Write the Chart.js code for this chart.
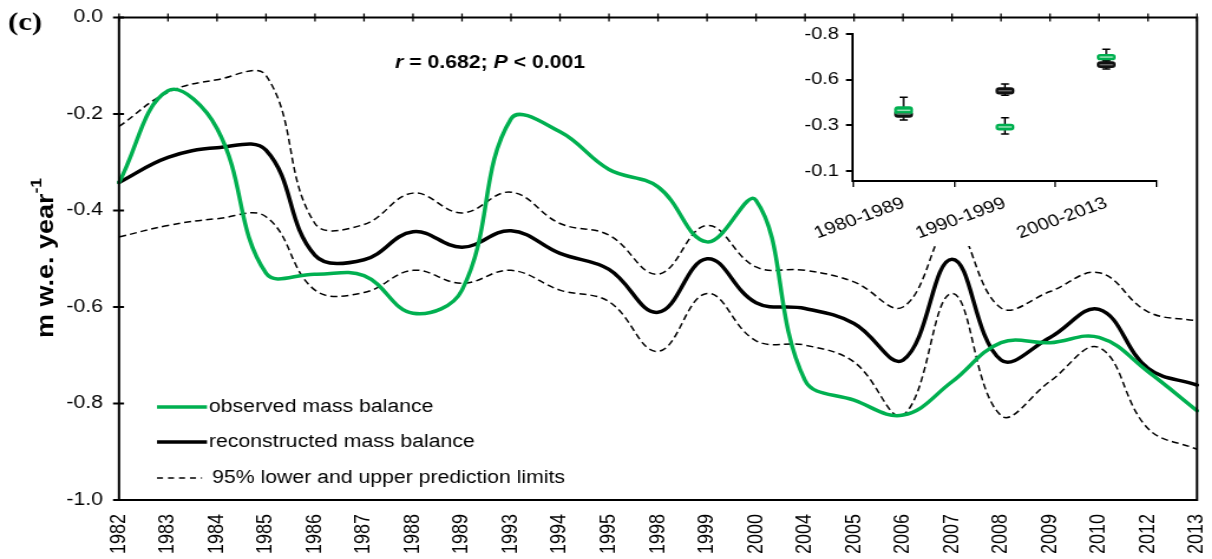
<!DOCTYPE html>
<html>
<head>
<meta charset="utf-8">
<script src="https://cdn.jsdelivr.net/npm/chart.js@4.4.0/dist/chart.umd.min.js"></script>
<style>
  html, body { margin: 0; padding: 0; background: #fff; }
  #wrap { position: relative; width: 1212px; height: 559px; overflow: hidden; background: #fff; }
  canvas { position: absolute; }
</style>
</head>
<body>
<div id="wrap">
  <canvas id="main" width="1027" height="559" style="left:0px;top:0px;width:1212px;height:559px;"></canvas>
  <canvas id="inset" width="339" height="224" style="left:790px;top:22px;width:400px;height:224px;"></canvas>
</div>
<script>
// Annual mass balance series (m w.e. per year)
const years = ['1982','1983','1984','1985','1986','1987','1988','1989','1993','1994','1995','1998',
               '1999','2000','2004','2005','2006','2007','2008','2009','2010','2012','2013'];
const observed = [-0.342,-0.152,-0.230,-0.530,-0.532,-0.535,-0.613,-0.565,-0.210,-0.237,-0.315,-0.351,
                  -0.465,-0.379,-0.752,-0.793,-0.824,-0.755,-0.674,-0.674,-0.663,-0.734,-0.815];
const reconstructed = [-0.342,-0.290,-0.270,-0.275,-0.493,-0.502,-0.444,-0.476,-0.442,-0.489,-0.522,-0.611,
                       -0.500,-0.591,-0.603,-0.634,-0.710,-0.501,-0.710,-0.663,-0.605,-0.727,-0.762];
const upperLimit = [-0.226,-0.155,-0.129,-0.120,-0.427,-0.429,-0.364,-0.405,-0.362,-0.427,-0.451,-0.532,
                    -0.431,-0.517,-0.524,-0.548,-0.600,-0.430,-0.602,-0.568,-0.529,-0.610,-0.629];
const lowerLimit = [-0.455,-0.431,-0.417,-0.413,-0.565,-0.570,-0.524,-0.551,-0.524,-0.565,-0.589,-0.692,
                    -0.572,-0.670,-0.679,-0.714,-0.824,-0.572,-0.825,-0.754,-0.684,-0.852,-0.895];
const yTickValues = [0, -0.2, -0.4, -0.6, -0.8, -1.0];

// Decadal box summaries for the inset
const decades = ['1980-1989', '1990-1999', '2000-2013'];
const obsBox = [[-0.429, -0.391], [-0.340, -0.309], [-0.696, -0.667]];
const obsMedian = [-0.410, -0.325, -0.682];
const obsWhisker = [[-0.477, -0.380], [-0.372, -0.289], [-0.722, -0.662]];
const recBox = [[-0.407, -0.374], [-0.526, -0.493], [-0.659, -0.628]];
const recMedian = [-0.391, -0.510, -0.643];
const recWhisker = [[-0.415, -0.361], [-0.545, -0.487], [-0.664, -0.621]];
const insetTickValues = [-0.8, -0.5667, -0.3333, -0.1];
const insetTickLabels = ['-0.8', '-0.6', '-0.3', '-0.1'];

// The canvases are drawn narrower and widened by CSS, giving the wide lettering
const SX = 1212 / 1027;
const cx = v => v / SX;
const GREEN = '#00b050';
const SANS = "'Liberation Sans', Arial, sans-serif";

// keep the plot area exactly where the layout padding puts it
function noScalePadding(s) {
  s.paddingLeft = 0; s.paddingRight = 0; s.paddingTop = 0; s.paddingBottom = 0;
}

const framePlugin = {
  id: 'frame',
  afterDatasetsDraw(chart) {
    const { ctx, chartArea: a, scales } = chart;
    ctx.save();
    ctx.strokeStyle = '#000';
    ctx.lineWidth = 2;
    ctx.strokeRect(a.left, a.top, a.right - a.left, a.bottom - a.top);
    // horizontal axis crosses at 0.0 (top edge) with cross tick marks
    ctx.lineWidth = 1.3;
    years.forEach((_, i) => {
      const x = scales.x.getPixelForValue(i);
      ctx.beginPath();
      ctx.moveTo(x, a.top - 4);
      ctx.lineTo(x, a.top + 4);
      ctx.stroke();
    });
    ctx.lineWidth = 2;
    yTickValues.forEach(v => {
      const y = scales.y.getPixelForValue(v);
      ctx.beginPath();
      ctx.moveTo(a.left - cx(6), y);
      ctx.lineTo(a.left + cx(5), y);
      ctx.stroke();
    });
    ctx.restore();
  }
};

const notesPlugin = {
  id: 'notes',
  afterDraw(chart) {
    const { ctx } = chart;
    const ds = chart.data.datasets;
    ctx.save();
    ctx.fillStyle = '#000';
    ctx.textBaseline = 'middle';

    // panel letter
    ctx.font = "bold 26px 'Liberation Serif', 'Times New Roman', serif";
    ctx.textAlign = 'left';
    ctx.fillText('(c)', cx(8), 23);

    // axis title with superscript, lettering drawn long along the axis
    ctx.save();
    ctx.translate(cx(47), 258);
    ctx.rotate(-Math.PI / 2);
    ctx.scale(1.35, 1);
    const big = 'bold 20px ' + SANS, small = 'bold 13px ' + SANS;
    const main = 'm w.e. year';
    ctx.font = big;
    const w1 = ctx.measureText(main).width;
    ctx.font = small;
    const w2 = ctx.measureText('-1').width;
    const start = -(w1 + w2) / 2;
    ctx.font = big;
    ctx.fillText(main, start, 0);
    ctx.font = small;
    ctx.fillText('-1', start + w1, -8);
    ctx.restore();

    // correlation statement
    const parts = [
      ['r', 'italic bold'], [' = 0.682; ', 'bold'], ['P', 'italic bold'], [' < 0.001', 'bold']
    ];
    let x = cx(395);
    parts.forEach(([t, st]) => {
      ctx.font = st + ' 18px ' + SANS;
      ctx.fillText(t, x, 63);
      x += ctx.measureText(t).width;
    });

    // legend
    const rows = [
      { y: 407, ds: ds[0], textX: cx(209) },
      { y: 442, ds: ds[1], textX: cx(209) },
      { y: 478, ds: ds[2], textX: cx(212) }
    ];
    ctx.font = '18px ' + SANS;
    rows.forEach(r => {
      ctx.save();
      ctx.strokeStyle = r.ds.borderColor;
      ctx.lineWidth = r.ds.borderWidth;
      if (r.ds.borderDash) ctx.setLineDash([cx(6), cx(5)]);
      ctx.beginPath();
      ctx.moveTo(cx(157), r.y);
      ctx.lineTo(r.ds.borderDash ? cx(202) : cx(207), r.y);
      ctx.stroke();
      ctx.restore();
      ctx.fillText(r.ds.label, r.textX, r.y);
    });
    ctx.restore();
  }
};

const lineBase = { pointRadius: 0, tension: 0.4, fill: false, borderCapStyle: 'round' };

new Chart(document.getElementById('main'), {
  type: 'line',
  data: {
    labels: years,
    datasets: [
      Object.assign({ label: 'observed mass balance', data: observed, borderColor: GREEN, borderWidth: 3.5 }, lineBase),
      Object.assign({ label: 'reconstructed mass balance', data: reconstructed, borderColor: '#000', borderWidth: 3.5 }, lineBase),
      Object.assign({ label: '95% lower and upper prediction limits', data: upperLimit, borderColor: '#000', borderWidth: 1.5, borderDash: [6, 3.5] }, lineBase, { borderCapStyle: 'butt' }),
      Object.assign({ label: '95% lower prediction limit', data: lowerLimit, borderColor: '#000', borderWidth: 1.5, borderDash: [6, 3.5] }, lineBase, { borderCapStyle: 'butt' })
    ]
  },
  options: {
    responsive: false,
    animation: false,
    devicePixelRatio: 1,
    layout: { padding: { top: 17.5, right: 1027 - cx(1197), left: 0, bottom: 0 } },
    plugins: { legend: { display: false }, tooltip: { enabled: false } },
    scales: {
      x: {
        type: 'category',
        offset: false,
        grid: { display: false, drawTicks: false },
        border: { display: false },
        ticks: { autoSkip: false, minRotation: 90, maxRotation: 90, padding: 14, color: '#000',
                 font: { family: SANS, size: 18 } },
        afterFit(s) { s.height = 59; noScalePadding(s); }
      },
      y: {
        min: -1, max: 0,
        grid: { display: false, drawTicks: false },
        border: { display: false },
        afterBuildTicks(s) { s.ticks = yTickValues.map(v => ({ value: v })); },
        ticks: { padding: cx(16), color: '#000', font: { family: SANS, size: 18 },
                 callback: v => Number(v).toFixed(1) },
        afterFit(s) { s.width = cx(119); noScalePadding(s); }
      }
    }
  },
  plugins: [framePlugin, notesPlugin]
});

// Inset: decadal boxes
const insetBg = {
  id: 'insetBg',
  beforeDraw(chart) {
    const { ctx } = chart;
    ctx.save();
    ctx.fillStyle = '#fff';
    ctx.fillRect(0, 0, chart.width, chart.height);
    ctx.restore();
  }
};

const boxParts = {
  id: 'boxParts',
  beforeDatasetsDraw(chart) {
    const { ctx, scales } = chart;
    ctx.save();
    ctx.strokeStyle = '#000';
    ctx.lineWidth = 1.5;
    chart.data.datasets.forEach((ds, di) => {
      chart.getDatasetMeta(di).data.forEach((bar, i) => {
        const [a, b] = ds.whiskers[i];
        const ya = scales.y.getPixelForValue(a), yb = scales.y.getPixelForValue(b);
        ctx.beginPath();
        ctx.moveTo(bar.x, ya); ctx.lineTo(bar.x, yb);
        ctx.moveTo(bar.x - cx(4), ya); ctx.lineTo(bar.x + cx(4), ya);
        ctx.moveTo(bar.x - cx(4), yb); ctx.lineTo(bar.x + cx(4), yb);
        ctx.stroke();
      });
    });
    ctx.restore();
  },
  afterDatasetsDraw(chart) {
    const { ctx, scales } = chart;
    ctx.save();
    ctx.lineWidth = 1.5;
    chart.data.datasets.forEach((ds, di) => {
      ctx.strokeStyle = ds.medianColor;
      chart.getDatasetMeta(di).data.forEach((bar, i) => {
        const y = scales.y.getPixelForValue(ds.medians[i]);
        ctx.beginPath();
        ctx.moveTo(bar.x - bar.width / 2 + 2, y);
        ctx.lineTo(bar.x + bar.width / 2 - 2, y);
        ctx.stroke();
      });
    });
    ctx.restore();
  }
};

new Chart(document.getElementById('inset'), {
  type: 'bar',
  data: {
    labels: decades,
    datasets: [
      { label: 'observed', data: obsBox, medians: obsMedian, whiskers: obsWhisker, medianColor: '#9be3b8',
        backgroundColor: GREEN, borderRadius: 3, borderSkipped: false, barThickness: cx(18), grouped: false },
      { label: 'reconstructed', data: recBox, medians: recMedian, whiskers: recWhisker, medianColor: '#666',
        backgroundColor: '#111', borderRadius: 3, borderSkipped: false, barThickness: cx(18), grouped: false }
    ]
  },
  options: {
    responsive: false,
    animation: false,
    devicePixelRatio: 1,
    layout: { padding: { top: 12, right: 339 - cx(1157 - 790), left: 0, bottom: 0 } },
    plugins: { legend: { display: false }, tooltip: { enabled: false } },
    scales: {
      x: {
        grid: { display: true, drawOnChartArea: false, drawTicks: true, tickLength: 6, color: '#000', lineWidth: 1.3, offset: true },
        border: { display: true, color: '#000', width: 2 },
        ticks: { autoSkip: false, minRotation: 23, maxRotation: 23, padding: 6, color: '#000',
                 font: { family: SANS, size: 17 } },
        afterFit(s) { s.height = 224 - 159; noScalePadding(s); }
      },
      y: {
        reverse: true,
        min: -0.8, max: -0.049,
        grid: { display: true, drawOnChartArea: false, drawTicks: true, tickLength: cx(7), color: '#000', lineWidth: 2 },
        border: { display: true, color: '#000', width: 2 },
        afterBuildTicks(s) { s.ticks = insetTickValues.map(v => ({ value: v })); },
        ticks: { padding: cx(7), color: '#000', font: { family: SANS, size: 17 },
                 callback: (v, i) => insetTickLabels[i] },
        afterFit(s) { s.width = cx(853 - 790); noScalePadding(s); }
      }
    }
  },
  plugins: [insetBg, boxParts]
});
</script>
</body>
</html>
